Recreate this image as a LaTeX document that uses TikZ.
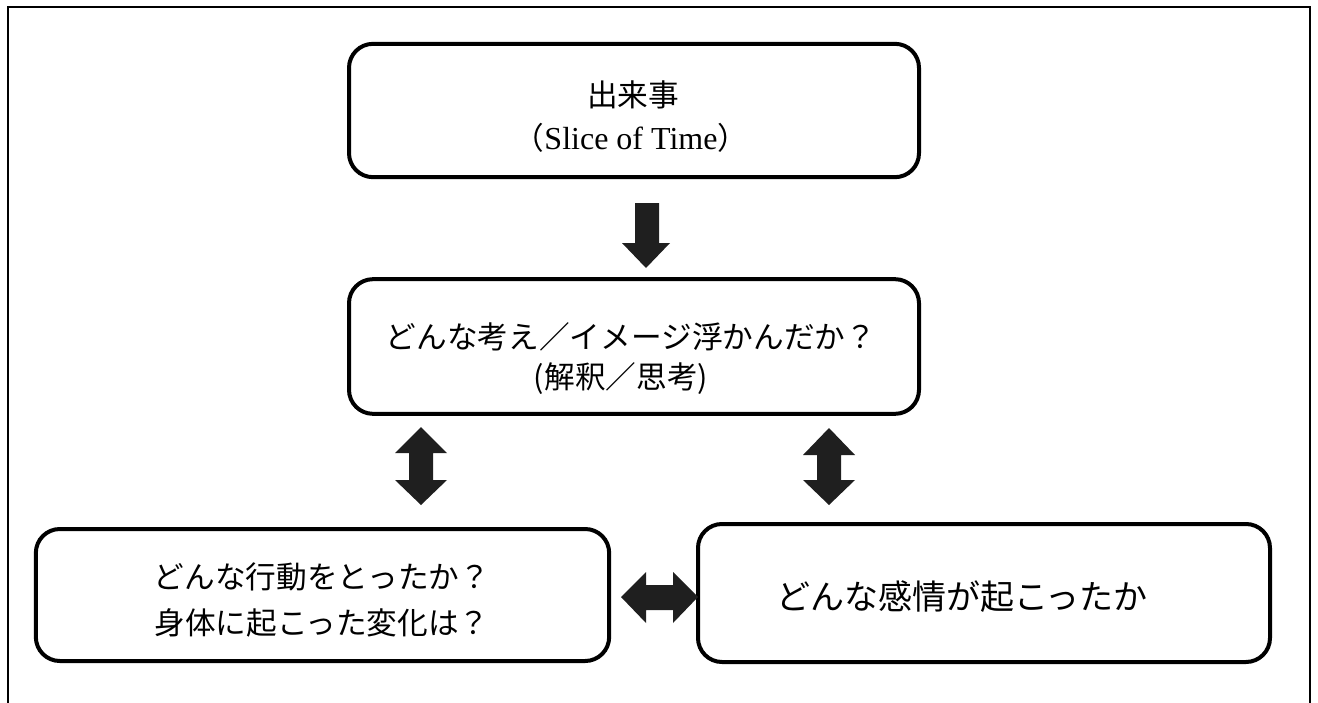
\documentclass[tikz,border=0pt]{standalone}
\usepackage{fontspec}
\setmainfont{Liberation Serif}
\newfontfamily\jp{Noto Sans CJK JP}
\begin{document}
\begin{tikzpicture}[x=0.75pt,y=-0.75pt,
  box/.style={draw, line width=3pt, rounded corners=18pt, inner sep=0pt},
  blk/.style={fill=black!88, draw=none},
  lbl/.style={inner sep=0pt, font=\jp\fontsize{23pt}{27pt}\selectfont},
  lblbig/.style={inner sep=0pt, font=\jp\fontsize{25.5pt}{30pt}\selectfont}]
\useasboundingbox (0,0) rectangle (1318,703);
\clip (0,0) rectangle (1318,703);
\draw[line width=1pt] (8,7) rectangle (1310,740);

% boxes
\node[box, minimum width=427.5pt, minimum height=100pt] (event) at (634,110.5) {};
\node[box, minimum width=427.5pt, minimum height=101pt] (thought) at (634,346.5) {};
\node[box, minimum width=430pt, minimum height=99pt] (action) at (322.5,595) {};
\node[box, minimum width=429pt, minimum height=103.5pt] (feeling) at (984,593) {};

% texts
\node[lbl] (eventA) at (633,95) {出来事};
\node[lbl] (eventB) at (631,138) {（{\rmfamily\fontsize{24pt}{28pt}\selectfont Slice of Time}）};
\node[lbl] (thoughtA) at (631,337) {どんな考え／イメージ浮かんだか？};
\node[lbl] (thoughtB) at (621,379) {(解釈／思考)};
\node[lbl] (actionA) at (322,577) {どんな行動をとったか？};
\node[lbl] (actionB) at (322,623) {身体に起こった変化は？};
\node[lblbig] (feelingA) at (962,597) {どんな感情が起こったか};

% block arrows
\fill[blk] (635,203) -- (659,203) -- (659,243) -- (670,243) -- (646,268) -- (622,243) -- (635,243) -- cycle;
% left vertical double arrow
\fill[blk] (421,427) -- (447,453) -- (433,453) -- (433,480) -- (447,480) -- (421,505)
  -- (395,480) -- (409,480) -- (409,453) -- (395,453) -- cycle;
% right vertical double arrow
\fill[blk] (829,428) -- (855,455) -- (841,455) -- (841,480) -- (855,480) -- (829,505)
  -- (803,480) -- (817,480) -- (817,455) -- (803,455) -- cycle;
% horizontal double arrow
\fill[blk] (621,597) -- (646,572) -- (646,585) -- (673,585) -- (673,572) -- (698,597)
  -- (673,623) -- (673,610) -- (646,610) -- (646,623) -- cycle;
\end{tikzpicture}
\end{document}
